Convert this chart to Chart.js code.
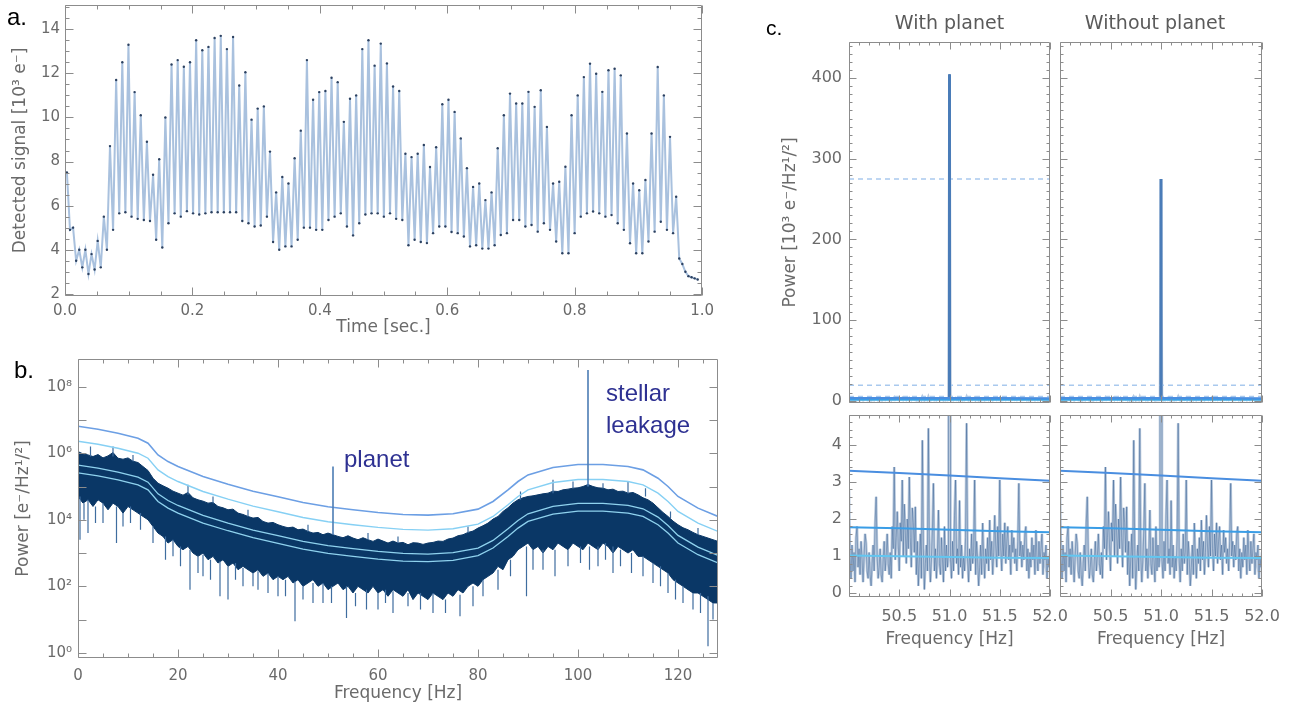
<!DOCTYPE html>
<html>
<head>
<meta charset="utf-8">
<script src="https://cdn.jsdelivr.net/npm/chart.js"></script>
<style>
  body { margin: 0; width: 1292px; height: 706px; overflow: hidden; position: relative; background: #fff; font-family: "Liberation Sans", Arial, sans-serif; }
  canvas { position: absolute; }
  .letter { position: absolute; font-size: 24px; line-height: 24px; color: #000; }
  .note { position: absolute; font-size: 24px; line-height: 24px; color: #2e3192; white-space: nowrap; }
  .head { position: absolute; font-family: "DejaVu Sans", sans-serif; font-size: 19px; line-height: 19px; color: #5a5a5a; text-align: center; }
</style>
</head>
<body>
<canvas id="chartA" width="720" height="340" style="left:0;top:0"></canvas>
<canvas id="chartB" width="730" height="366" style="left:0;top:340px"></canvas>
<canvas id="chartCul" width="295" height="410" style="left:760px;top:0"></canvas>
<canvas id="chartCur" width="237" height="410" style="left:1055px;top:0"></canvas>
<canvas id="chartCll" width="320" height="260" style="left:760px;top:410px"></canvas>
<canvas id="chartClr" width="237" height="260" style="left:1055px;top:410px"></canvas>

<div class="letter" style="left:7px;top:5px">a.</div>
<div class="letter" style="left:14px;top:358px">b.</div>
<div class="letter" style="left:766px;top:16px;font-size:21px">c.</div>
<div class="note" style="left:344px;top:447px">planet</div>
<div class="note" style="left:606px;top:381px">stellar</div>
<div class="note" style="left:606px;top:413px">leakage</div>
<div class="head" style="left:849px;top:13px;width:201px">With planet</div>
<div class="head" style="left:1054px;top:13px;width:202px">Without planet</div>

<script>
// ---- panel a: detected signal [10^3 e-], crest / trough samples in time order
const aStart = 0.003;
const aStep = 0.00483;
const aSignal = [
  7.5, 4.9, 5.0, 3.5, 4.0, 3.2, 4.0, 2.9, 3.8, 3.1, 4.4, 3.2, 5.5, 4.0, 8.7, 4.9, 11.7, 5.65, 12.5, 5.7,
  13.3, 5.5, 11.15, 5.4, 10.1, 5.35, 8.9, 5.3, 7.4, 4.45, 8.1, 4.1, 10.0, 5.2, 12.4, 5.65, 12.6, 5.5, 12.3, 5.75,
  12.5, 5.65, 13.5, 5.6, 13.05, 5.65, 13.2, 5.7, 13.6, 5.7, 13.7, 5.7, 13.1, 5.7, 13.65, 5.7, 11.45, 5.3, 12.05, 5.2,
  9.9, 5.05, 10.4, 5.1, 10.5, 5.5, 8.45, 4.35, 6.6, 4.0, 7.3, 4.15, 7.0, 4.15, 8.15, 4.45, 9.4, 5.0, 12.6, 5.0,
  10.8, 4.9, 11.15, 4.9, 11.2, 5.35, 11.8, 5.5, 11.6, 5.65, 9.8, 5.05, 10.85, 4.65, 11.0, 5.2, 13.1, 5.6, 13.5, 5.65,
  12.35, 5.65, 13.35, 5.5, 12.45, 5.65, 11.4, 5.4, 11.2, 5.35, 8.35, 4.2, 8.2, 4.45, 8.35, 4.35, 8.75, 4.3, 7.75, 4.75,
  8.65, 5.05, 10.6, 5.05, 10.8, 4.8, 10.25, 4.75, 9.05, 4.6, 7.7, 4.15, 6.85, 4.2, 7.0, 4.05, 6.25, 4.05, 6.6, 4.2,
  8.6, 4.67, 10.1, 4.75, 11.08, 5.35, 10.63, 5.35, 10.63, 5.05, 11.16, 5.12, 10.48, 4.82, 11.23, 5.2, 9.57, 4.9, 7.0, 4.37,
  7.08, 3.84, 7.76, 3.84, 10.1, 4.75, 11.0, 5.5, 11.83, 5.65, 12.44, 5.73, 11.98, 5.65, 11.16, 5.5, 12.14, 5.57, 12.21, 5.2,
  11.91, 4.9, 9.27, 4.29, 7.0, 3.84, 6.7, 3.84, 7.16, 4.37, 9.27, 4.82, 12.29, 5.27, 11.0, 4.9, 9.12, 4.75, 6.4,
  3.6, 3.35, 3.0, 2.8, 2.75, 2.7, 2.65
];
const aXTicks = [0, 0.2, 0.4, 0.6, 0.8, 1.0];
const aYTicks = [2, 4, 6, 8, 10, 12, 14];

// ---- panel b: power spectrum, values as log10 of power, 1 Hz bins from 0 Hz
const bBandTop = [
  6.05, 5.98, 5.95, 5.9, 5.96, 5.86, 5.92, 6.02, 5.85, 5.82,
  5.86, 5.76, 5.72, 5.6, 5.48, 5.25, 5.1, 5.02, 4.95, 4.86,
  4.8, 4.74, 4.82, 4.66, 4.6, 4.56, 4.5, 4.52, 4.4, 4.36,
  4.3, 4.32, 4.2, 4.16, 4.1, 4.05, 4.07, 3.95, 3.9, 3.92,
  3.85, 3.8, 3.76, 3.78, 3.7, 3.72, 3.65, 3.6, 3.62, 3.55,
  3.6, 3.55, 3.5, 3.46, 3.52, 3.45, 3.4, 3.46, 3.4, 3.35,
  3.42, 3.36, 3.3, 3.36, 3.3, 3.32, 3.25, 3.31, 3.3, 3.26,
  3.3, 3.32, 3.36, 3.35, 3.42, 3.45, 3.52, 3.55, 3.62, 3.66,
  3.75, 3.82, 3.9, 4.02, 4.1, 4.25, 4.36, 4.5, 4.6, 4.66,
  4.7, 4.72, 4.75, 4.78, 4.8, 4.86, 4.85, 4.9, 4.92, 4.95,
  4.96, 5.0, 5.06, 5.0, 4.96, 4.95, 4.9, 4.92, 4.85, 4.86,
  4.8, 4.82, 4.75, 4.66, 4.6, 4.5, 4.36, 4.22, 4.1, 3.96,
  3.85, 3.76, 3.7, 3.62, 3.55, 3.5, 3.45, 3.4, 3.35
];
const bBandBottom = [
  4.7, 4.5, 4.6, 4.4, 4.6, 4.5, 4.3, 4.5, 4.4, 4.2,
  4.4, 4.3, 4.2, 4.1, 4.0, 3.8, 3.6, 3.5, 3.3, 3.4,
  3.2, 3.1, 3.2, 3.0, 2.9, 3.0, 2.8, 2.9, 2.7, 2.8,
  2.6, 2.7, 2.5, 2.6, 2.5, 2.4, 2.5, 2.3, 2.4, 2.2,
  2.3, 2.2, 2.3, 2.1, 2.2, 2.0, 2.1, 2.2, 2.0, 2.1,
  1.9, 2.0, 2.1, 1.9, 2.0, 1.8, 2.0, 1.9, 1.8, 2.0,
  1.8, 1.9, 1.7, 1.9, 1.8, 1.7, 1.9, 1.6, 1.8, 1.7,
  1.6, 1.8, 1.7, 1.6, 1.8, 1.7, 1.9, 1.8, 2.0, 2.1,
  2.0, 2.2, 2.3, 2.4, 2.6, 2.5, 2.8, 2.9, 3.1, 3.2,
  3.3, 3.1, 3.2, 3.0, 3.2, 3.1, 3.3, 3.2, 3.1, 3.3,
  3.2, 3.1, 3.3, 3.2, 3.1, 3.3, 3.2, 3.0, 3.2, 3.1,
  3.0, 3.1, 2.9, 2.9, 2.8, 2.7, 2.6, 2.5, 2.4, 2.2,
  2.1, 2.0, 1.9, 1.8, 1.8, 1.7, 1.6, 1.5, 1.5
];
// single noisy bins sticking out of the band (from -> to, log10)
const bSpikeFreq = [
  0.4, 2, 2.5, 5, 7, 7.7, 12.5, 15, 17.5, 22, 22.4, 25, 28.4, 30, 33, 36, 40, 43.4, 47, 50.7, 53.7, 57.7,
  63, 66, 76.4, 79, 84, 89.7, 93, 95, 95.4, 102.3, 104, 107, 110, 110.7, 113, 113.5, 118, 121, 123, 126, 127,
  1.2, 3.5, 9, 10.5, 19, 20.5, 24, 26.5, 31.5, 35, 38, 41.5, 45, 49, 55.5, 60, 61.5, 68.5, 71, 73.5,
  81, 86.5, 91, 98, 100.5, 105.5, 108.5, 115, 116.5, 119.5, 124.5,
  11, 27, 34, 46, 58, 64, 78, 88.5, 99, 105, 118.5, 124
];
const bSpikeFrom = [
  4.7, 4.6, 5.9, 4.5, 5.9, 4.4, 4.2, 3.8, 3.5, 4.75, 3.1, 2.95, 2.75, 2.6, 2.55, 2.45, 2.3, 2.15, 2.1, 2.0, 2.0, 1.9,
  1.85, 1.8, 1.75, 2.0, 2.5, 3.2, 3.1, 4.8, 3.1, 3.2, 3.2, 3.2, 4.8, 3.0, 2.9, 4.7, 2.4, 2.0, 1.8, 1.7, 1.5,
  4.5, 4.4, 4.2, 4.4, 3.4, 3.2, 2.9, 2.8, 2.7, 2.4, 2.4, 2.2, 2.0, 2.1, 1.8, 1.8, 1.9, 1.8, 1.8, 1.6,
  2.2, 2.8, 3.1, 3.1, 3.2, 3.3, 3.1, 2.7, 2.6, 2.2, 1.8,
  5.76, 4.5, 4.1, 3.65, 3.4, 3.3, 3.6, 4.6, 4.95, 4.95, 4.05, 3.55
];
const bSpikeTo = [
  3.4, 3.6, 6.2, 3.9, 6.2, 3.3, 3.7, 3.3, 2.8, 5.05, 1.9, 2.3, 1.7, 1.6, 2.0, 1.9, 1.7, 0.95, 1.5, 1.5, 1.05, 1.3,
  1.2, 1.4, 1.1, 1.4, 1.9, 1.7, 2.5, 5.2, 2.3, 2.5, 2.6, 2.4, 5.15, 2.4, 2.3, 4.95, 1.8, 1.5, 1.3, 0.2, 1.0,
  4.0, 3.9, 3.8, 3.9, 2.9, 2.6, 2.4, 2.2, 2.2, 2.0, 1.8, 1.7, 1.6, 1.5, 1.4, 1.3, 1.5, 1.3, 1.2, 1.2,
  1.7, 2.3, 2.5, 2.6, 2.7, 2.8, 2.6, 2.1, 2.0, 1.6, 1.2,
  5.95, 4.7, 4.3, 3.85, 3.6, 3.5, 3.8, 4.85, 5.15, 5.1, 4.25, 3.75
];
const bPeakFreq = [51, 102];        // planet, stellar leakage
const bPeakBase = [3.55, 5.0];
const bPeakTop = [5.6, 8.5];
const bLineFreq = [0, 4, 8, 12, 14, 16, 18, 20, 25, 30, 35, 40, 45, 50, 55, 60, 65, 70, 75, 80, 83, 86, 88, 90, 95, 100, 105, 110, 113, 116, 118, 120, 124, 128];
const bUpper = [6.81, 6.72, 6.6, 6.45, 6.3, 5.95, 5.75, 5.6, 5.3, 5.07, 4.86, 4.69, 4.52, 4.39, 4.3, 4.22, 4.16, 4.14, 4.18, 4.32, 4.55, 4.9, 5.15, 5.35, 5.57, 5.66, 5.66, 5.6, 5.5, 5.25, 5.0, 4.7, 4.35, 4.1];
const bMiddle = [6.36, 6.27, 6.15, 6.0, 5.85, 5.5, 5.3, 5.15, 4.85, 4.62, 4.41, 4.24, 4.07, 3.94, 3.85, 3.77, 3.71, 3.69, 3.73, 3.87, 4.1, 4.45, 4.7, 4.9, 5.12, 5.21, 5.21, 5.15, 5.05, 4.8, 4.55, 4.25, 3.9, 3.65];
const bMeanHi = [5.64, 5.55, 5.43, 5.28, 5.13, 4.78, 4.58, 4.43, 4.13, 3.9, 3.69, 3.52, 3.35, 3.22, 3.13, 3.05, 2.99, 2.97, 3.01, 3.15, 3.38, 3.73, 3.98, 4.18, 4.4, 4.49, 4.49, 4.43, 4.33, 4.08, 3.83, 3.53, 3.18, 2.93];
const bMeanLo = [5.41, 5.32, 5.2, 5.05, 4.9, 4.55, 4.35, 4.2, 3.9, 3.67, 3.46, 3.29, 3.12, 2.99, 2.9, 2.82, 2.76, 2.74, 2.78, 2.92, 3.15, 3.5, 3.75, 3.95, 4.17, 4.26, 4.26, 4.2, 4.1, 3.85, 3.6, 3.3, 2.95, 2.7];
const bXTicks = [0, 20, 40, 60, 80, 100, 120];
const bYTicks = [1, 1e2, 1e4, 1e6, 1e8];
const bYTickLabels = ['10⁰', '10²', '10⁴', '10⁶', '10⁸'];

// ---- panel c: zoom around the planet frequency, power in 10^3 e-/Hz^1/2, 0.01 Hz bins from 50 Hz
const cFreqStart = 50.0;
const cFreqStep = 0.01;
const cNoise = [
  2.8, 1.0, 0.4, 1.3, 0.6, 1.1, 0.3, 1.5, 1.8, 0.7,
  1.2, 0.5, 1.4, 0.9, 0.3, 1.0, 1.6, 1.35, 0.6, 0.4,
  1.1, 0.5, 0.2, 0.8, 1.3, 0.6, 1.9, 2.6, 1.0, 0.4,
  0.7, 1.2, 0.5, 0.3, 0.9, 1.4, 0.6, 1.0, 1.6, 0.8,
  0.5, 1.1, 0.4, 1.8, 1.2, 3.4, 0.9, 1.5, 2.2, 1.3,
  0.6, 1.9, 1.4, 3.05, 1.0, 2.4, 1.7, 0.8, 2.0, 1.2,
  3.13, 1.5, 0.7, 2.3, 1.9, 1.1, 2.33, 0.5, 1.4, 0.2,
  0.9, 1.6, 0.4, 4.12, 1.2, 0.1, 0.8, 1.3, 0.6, 4.44,
  1.0, 0.3, 0.9, 1.7, 2.96, 0.6, 1.2, 0.4, 1.1, 2.24,
  0.8, 0.5, 1.5, 0.9, 0.3, 1.8, 0.6, 1.3, 0.7, 1.1,
  1.0, 0.9, 0.4, 1.4, 0.6, 2.1, 3.05, 0.8, 1.2, 0.5,
  2.5, 0.7, 1.3, 0.4, 1.0, 0.6, 1.5, 4.58, 0.9, 0.3,
  1.2, 0.6, 1.6, 0.8, 1.1, 3.05, 0.5, 1.4, 0.9, 0.2,
  0.7, 1.3, 0.5, 1.89, 1.0, 0.4, 1.2, 0.8, 1.5, 0.6,
  1.97, 0.9, 1.4, 0.5, 1.1, 2.1, 1.3, 0.7, 1.8, 1.0,
  3.05, 1.2, 0.6, 1.6, 1.0, 1.9, 0.8, 1.4, 1.8, 0.9,
  1.3, 0.5, 1.7, 1.1, 1.5, 0.8, 1.2, 0.6, 1.4, 2.96,
  1.0, 1.4, 0.7, 1.3, 0.9, 1.6, 1.8, 0.6, 1.2, 0.4,
  1.1, 0.7, 1.5, 0.9, 1.3, 0.5, 1.7, 1.0, 0.6, 1.4,
  0.8, 1.2, 1.6, 0.5, 1.1, 0.9, 1.3, 0.4, 1.0, 0.7,
  1.1
];
const cPlanetFreq = 51.0;
const cPowerWith = 405;
const cPowerWithout = 275;
const cLineFreq = [50.0, 50.5, 51.0, 51.5, 52.0];
const cLineHigh = [3.3, 3.24, 3.17, 3.1, 3.03];
const cLineMid = [1.78, 1.75, 1.71, 1.67, 1.64];
const cLineLow = [1.02, 1.0, 0.98, 0.96, 0.95];
const cDashWith = [275, 19, 5];
const cDashWithout = [19, 5];
const cXTicks = [50.5, 51.0, 51.5, 52.0];
const cYTicksTop = [0, 100, 200, 300, 400];
const cYTicksBottom = [0, 1, 2, 3, 4];

Chart.defaults.font.family = '"DejaVu Sans", sans-serif';
Chart.defaults.color = '#6a6a6a';

const textGray = '#6a6a6a';

// box frame with inward tick marks on all four sides (IDL look)
function tickValues(min, max, step) {
  const out = [];
  const first = Math.ceil(min / step - 1e-7);
  for (let k = first; k * step <= max + step * 1e-7; k++) out.push(k * step);
  return out;
}
function isMultiple(v, step) {
  const r = v / step;
  return Math.abs(r - Math.round(r)) < 1e-6;
}
const boxTicks = {
  id: 'boxTicks',
  afterDatasetsDraw(chart, args, o) {
    const { ctx, chartArea: a } = chart;
    const sx = chart.scales.x, sy = chart.scales.y;
    const L = Math.round(a.left) + 0.5, R = Math.round(a.right) - 0.5;
    const T = Math.round(a.top) + 0.5, B = Math.round(a.bottom) - 0.5;
    ctx.save();
    ctx.strokeStyle = '#8c8c8c';
    ctx.lineWidth = 1;
    ctx.beginPath();
    tickValues(sx.min, sx.max, o.xMinor).forEach(v => {
      const len = isMultiple(v, o.xMajor) ? o.major : o.minor;
      const p = Math.round(sx.getPixelForValue(v)) + 0.5;
      ctx.moveTo(p, B); ctx.lineTo(p, B - len);
      ctx.moveTo(p, T); ctx.lineTo(p, T + len);
    });
    let ys;
    if (o.yLog) {
      ys = tickValues(Math.log10(sy.min), Math.log10(sy.max), 1).map(e => ({ v: Math.pow(10, e), len: o.major }));
    } else {
      ys = tickValues(sy.min, sy.max, o.yMinor).map(v => ({ v: v, len: isMultiple(v, o.yMajor) ? o.major : o.minor }));
    }
    ys.forEach(t => {
      const p = Math.round(sy.getPixelForValue(t.v)) + 0.5;
      ctx.moveTo(L, p); ctx.lineTo(L + t.len, p);
      ctx.moveTo(R, p); ctx.lineTo(R - t.len, p);
    });
    ctx.rect(L, T, R - L, B - T);
    ctx.stroke();
    ctx.restore();
  }
};

function axis(o) {
  return {
    type: o.type || 'linear',
    min: o.min,
    max: o.max,
    grid: { display: false, drawTicks: false },
    border: { display: false },
    afterBuildTicks: s => { s.ticks = o.ticks.map(v => ({ value: v })); },
    afterFit: s => {
      if (o.width !== undefined) s.width = o.width;
      if (o.height !== undefined) s.height = o.height;
      // label overhang of vertical axes must not shrink the plot box
      if (!s.isHorizontal()) { s.paddingTop = 0; s.paddingBottom = 0; }
    },
    ticks: {
      display: !!o.labels,
      padding: o.pad || 0,
      font: { size: o.size || 15 },
      color: textGray,
      maxRotation: 0,
      autoSkip: false,
      callback: o.labels || (() => '')
    },
    title: o.title
      ? { display: true, text: o.title, font: { size: 17 }, color: textGray, padding: o.titlePad }
      : { display: false }
  };
}

function common(pad, scales, box) {
  return {
    responsive: false,
    animation: false,
    events: [],
    layout: { padding: Object.assign({ left: 0, right: 0, top: 0, bottom: 0 }, pad) },
    plugins: { legend: { display: false }, tooltip: { enabled: false }, boxTicks: box },
    scales: scales
  };
}

function pow10(v) { return Math.pow(10, v); }
function logLine(freqs, logs) { return freqs.map((f, i) => ({ x: f, y: pow10(logs[i]) })); }
function logSegments(freqs, from, to) {
  const d = [];
  freqs.forEach((f, i) => { d.push({ x: f, y: pow10(from[i]) }, { x: f, y: pow10(to[i]) }, { x: f, y: null }); });
  return d;
}
function flat(freqs, vals) { return freqs.map((f, i) => ({ x: f, y: vals[i] })); }
function lineDs(data, color, width, extra) {
  return Object.assign({ data: data, borderColor: color, borderWidth: width, pointRadius: 0, tension: 0, fill: false }, extra || {});
}

// ---------- panel a
new Chart(document.getElementById('chartA'), {
  type: 'line',
  data: {
    datasets: [lineDs(aSignal.map((v, i) => ({ x: aStart + i * aStep, y: v })), '#a9c1de', 2,
      { pointRadius: 1.2, pointBackgroundColor: '#2c4160', pointBorderWidth: 0 })]
  },
  options: common({ top: 5, right: 11 }, {
    x: axis({ min: 0, max: 1, ticks: aXTicks, labels: v => v.toFixed(1), height: 44, pad: 6,
      title: 'Time [sec.]', titlePad: { top: 0, bottom: 2 } }),
    y: axis({ min: 1.9, max: 15.1, ticks: aYTicks, labels: v => String(v), width: 65, pad: 5,
      title: 'Detected signal [10³ e⁻]', titlePad: { top: 10, bottom: 0 } })
  }, { xMajor: 0.2, xMinor: 0.05, yMajor: 2, yMinor: 0.5, major: 8, minor: 4 }),
  plugins: [boxTicks]
});

// ---------- panel b
const bBins = bBandTop.map((v, i) => i);
new Chart(document.getElementById('chartB'), {
  type: 'line',
  data: {
    datasets: [
      lineDs(logSegments(bPeakFreq, bPeakBase, bPeakTop), '#4d7db5', 1.6),
      lineDs(logLine(bLineFreq, bUpper), '#6c9fe4', 1.6),
      lineDs(logLine(bLineFreq, bMiddle), '#86d0f4', 1.4),
      lineDs(logLine(bLineFreq, bMeanHi), '#8fd2ee', 1.3),
      lineDs(logLine(bLineFreq, bMeanLo), '#8fd2ee', 1.3),
      lineDs(logSegments(bSpikeFreq, bSpikeFrom, bSpikeTo), '#3f6d9f', 1.2),
      lineDs(logLine(bBins, bBandTop), '#0a3766', 1, { fill: '+1', backgroundColor: '#0a3766' }),
      lineDs(logLine(bBins, bBandBottom), '#0a3766', 1)
    ]
  },
  options: common({ top: 19, right: 12 }, {
    x: axis({ min: 0, max: 128, ticks: bXTicks, labels: v => String(v), height: 48, pad: 9,
      title: 'Frequency [Hz]', titlePad: { top: 0, bottom: 2 } }),
    y: axis({ type: 'logarithmic', min: 0.7, max: 6.8e8, ticks: bYTicks, labels: (v, i) => bYTickLabels[i],
      width: 78, pad: 6, title: 'Power [e⁻/Hz¹/²]', titlePad: { top: 13, bottom: 0 } })
  }, { xMajor: 20, xMinor: 5, yLog: true, major: 8, minor: 4 }),
  plugins: [boxTicks]
});

// ---------- panel c
function cSeries(planetPower) {
  return cNoise.map((v, i) => {
    const f = cFreqStart + i * cFreqStep;
    return { x: f, y: Math.abs(f - cPlanetFreq) < 1e-6 ? planetPower : v };
  });
}
function cDatasets(planetPower, dashes, top) {
  const ds = [
    lineDs(flat(cLineFreq, cLineHigh), '#4a8ee0', 2),
    lineDs(flat(cLineFreq, cLineMid), '#3a9de6', 2),
    lineDs(flat(cLineFreq, cLineLow), '#62c6f0', 2)
  ];
  if (top) {
    ds.push(lineDs([{ x: cPlanetFreq, y: 0 }, { x: cPlanetFreq, y: planetPower }], '#4a7cb8', 3));
    dashes.forEach(v => ds.push(lineDs([{ x: cFreqStart, y: v }, { x: 52.0, y: v }], '#a9c9ee', 1.5, { borderDash: [5, 4] })));
  }
  ds.push(lineDs(cSeries(planetPower), 'rgba(35,80,135,0.55)', 0.7));
  ds.push(lineDs(cSeries(planetPower), '#b9c9dd', 2.6));
  return ds;
}
const cBoxTop = { xMajor: 0.5, xMinor: 0.1, yMajor: 100, yMinor: 10, major: 7, minor: 3 };
const cBoxBottom = { xMajor: 0.5, xMinor: 0.1, yMajor: 1, yMinor: 0.2, major: 7, minor: 3 };
const cTitleY = 'Power [10³ e⁻/Hz¹/²]';

new Chart(document.getElementById('chartCul'), {
  type: 'line',
  data: { datasets: cDatasets(cPowerWith, cDashWith, true) },
  options: common({ top: 42, right: 5 }, {
    x: axis({ min: 50, max: 52, ticks: cXTicks, height: 7 }),
    y: axis({ min: -3, max: 445, ticks: cYTicksTop, labels: v => String(v), size: 16, width: 89, pad: 7,
      title: cTitleY, titlePad: { top: 20, bottom: 0 } })
  }, cBoxTop),
  plugins: [boxTicks]
});
new Chart(document.getElementById('chartCur'), {
  type: 'line',
  data: { datasets: cDatasets(cPowerWithout, cDashWithout, true) },
  options: common({ top: 42, right: 30 }, {
    x: axis({ min: 50, max: 52, ticks: cXTicks, height: 7 }),
    y: axis({ min: -3, max: 445, ticks: cYTicksTop, width: 5 })
  }, cBoxTop),
  plugins: [boxTicks]
});
new Chart(document.getElementById('chartCll'), {
  type: 'line',
  data: { datasets: cDatasets(cPowerWith, [], false) },
  options: common({ top: 5, right: 30 }, {
    x: axis({ min: 50, max: 52, ticks: cXTicks, labels: v => v.toFixed(1), size: 16, height: 73, pad: 10,
      title: 'Frequency [Hz]', titlePad: { top: 0, bottom: 20 } }),
    y: axis({ min: -0.1, max: 4.8, ticks: cYTicksBottom, labels: v => String(v), size: 16, width: 89, pad: 7 })
  }, cBoxBottom),
  plugins: [boxTicks]
});
new Chart(document.getElementById('chartClr'), {
  type: 'line',
  data: { datasets: cDatasets(cPowerWithout, [], false) },
  options: common({ top: 5, right: 30 }, {
    x: axis({ min: 50, max: 52, ticks: cXTicks, labels: v => v.toFixed(1), size: 16, height: 73, pad: 10,
      title: 'Frequency [Hz]', titlePad: { top: 0, bottom: 20 } }),
    y: axis({ min: -0.1, max: 4.8, ticks: cYTicksBottom, width: 5 })
  }, cBoxBottom),
  plugins: [boxTicks]
});
</script>
</body>
</html>
